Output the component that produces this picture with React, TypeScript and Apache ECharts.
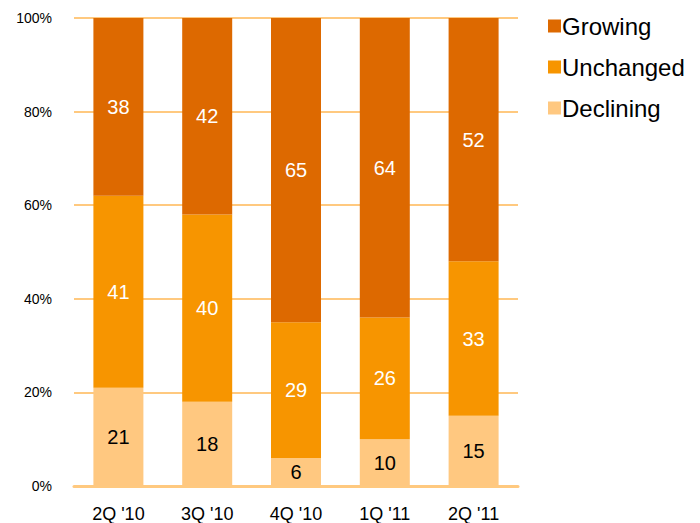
import React, { useEffect, useRef } from "react";
import * as echarts from "echarts";

const categories = ["2Q '10", "3Q '10", "4Q '10", "1Q '11", "2Q '11"];
const declining = [21, 18, 6, 10, 15];
const unchanged = [41, 40, 29, 26, 33];
const growing = [38, 42, 65, 64, 52];
const yTicks = [0, 20, 40, 60, 80, 100];

const FONT = "'Liberation Sans', Arial, sans-serif";

export default function App() {
  const ref = useRef<HTMLDivElement>(null);
  useEffect(() => {
    if (!ref.current) return;
    const chart = echarts.init(ref.current, undefined, { renderer: "svg" });
    const labelStyle = (color: string) => ({
      show: true,
      position: "inside" as const,
      color,
      fontSize: 20,
      fontFamily: FONT,
    });
    chart.setOption({
      animation: false,
      textStyle: { fontFamily: FONT },
      grid: { left: 74, right: 182, top: 18, bottom: 37, containLabel: false },
      legend: {
        orient: "vertical",
        left: 543,
        top: 9,
        itemWidth: 13,
        itemHeight: 13,
        itemGap: 17,
        icon: "rect",
        textStyle: { fontSize: 24, color: "#000", fontFamily: FONT, padding: [0, 0, 0, -4] },
        data: ["Growing", "Unchanged", "Declining"],
      },
      xAxis: {
        type: "category",
        data: categories,
        axisLine: { show: true, lineStyle: { color: "#FFC97F", width: 3 } },
        axisTick: { show: false },
        axisLabel: { color: "#000", fontSize: 18, margin: 19, fontFamily: FONT },
      },
      yAxis: {
        type: "value",
        min: 0,
        max: 100,
        interval: 20,
        axisLine: { show: false },
        axisTick: { show: false },
        axisLabel: {
          color: "#000",
          fontSize: 14,
          margin: 22,
          fontFamily: FONT,
          formatter: (v: number) => (yTicks.includes(v) ? v + "%" : ""),
        },
        splitLine: { show: true, lineStyle: { color: "#FFC97F", width: 2 } },
      },
      series: [
        {
          name: "Declining",
          type: "bar",
          stack: "s",
          barWidth: 50,
          data: declining,
          itemStyle: { color: "#FFC880" },
          label: labelStyle("#000"),
        },
        {
          name: "Unchanged",
          type: "bar",
          stack: "s",
          barWidth: 50,
          data: unchanged,
          itemStyle: { color: "#F79500" },
          label: labelStyle("#fff"),
        },
        {
          name: "Growing",
          type: "bar",
          stack: "s",
          barWidth: 50,
          data: growing,
          itemStyle: { color: "#DD6900" },
          label: labelStyle("#fff"),
        },
      ],
    });
    return () => chart.dispose();
  }, []);
  return <div ref={ref} style={{ width: 700, height: 523, position: "absolute", left: 0, top: 0 }} />;
}
